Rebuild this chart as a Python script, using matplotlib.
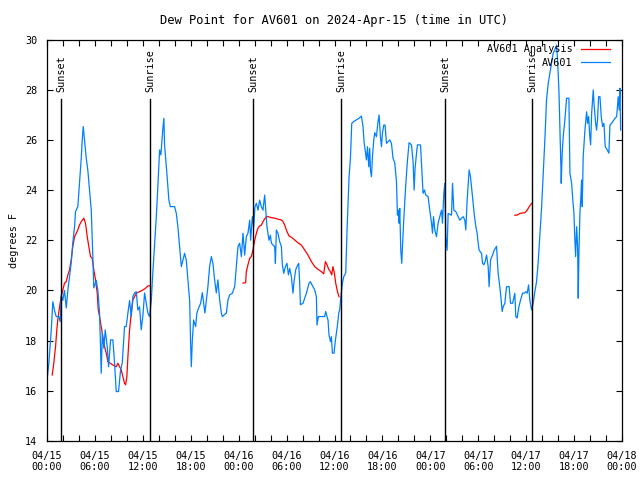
import numpy as np
import pandas as pd
import matplotlib
matplotlib.use("Agg")
import matplotlib.pyplot as plt
import matplotlib.dates as mdates
import matplotlib.transforms as mtransforms

start = pd.Timestamp("2024-04-15 00:00")

# AV601 observations: hours since 04/15 00:00 UTC, dew point (F)
obs_hours = [
    0.0, 0.23, 0.53, 0.73, 0.94, 1.15, 1.48, 1.65, 1.78, 1.98, 2.19, 2.41, 2.61, 2.82,
    3.03, 3.23, 3.45, 3.57, 3.86, 4.07, 4.29, 4.41, 4.54, 4.70, 4.91, 5.11, 5.33, 5.54,
    5.74, 5.86, 6.17, 6.37, 6.58, 6.70, 6.79, 6.92, 7.12, 7.29, 7.54, 7.71, 7.96, 8.25,
    8.46, 8.67, 8.96, 9.21, 9.42, 9.71, 9.92, 10.13, 10.34, 10.55, 10.75, 10.96, 11.18,
    11.38, 11.59, 11.80, 12.01, 12.22, 12.43, 12.63, 12.84, 13.06, 13.26, 13.47, 13.68,
    13.88, 14.10, 14.26, 14.51, 14.64, 14.72, 15.01, 15.26, 15.44, 15.98, 16.19, 16.39,
    16.60, 16.82, 17.02, 17.23, 17.44, 17.64, 17.86, 17.98, 18.07, 18.20, 18.36, 18.61,
    18.77, 18.98, 19.24, 19.45, 19.61, 19.77, 19.95, 20.15, 20.36, 20.58, 20.78, 20.99,
    21.20, 21.40, 21.62, 21.83, 21.95, 22.46, 22.66, 22.87, 23.21, 23.50, 23.71, 23.91,
    24.12, 24.34, 24.54, 24.75, 24.96, 25.16, 25.38, 25.50, 25.71, 25.88, 26.04, 26.22,
    26.42, 26.63, 26.84, 27.04, 27.26, 27.54, 27.80, 27.97, 28.10, 28.30, 28.51, 28.60,
    28.72, 28.92, 29.14, 29.35, 29.47, 29.64, 29.85, 30.05, 30.23, 30.39, 30.60, 30.80,
    30.93, 31.14, 31.30, 31.52, 31.64, 31.73, 32.06, 32.48, 32.81, 32.98, 33.31, 33.52,
    33.73, 33.81, 33.98, 34.36, 34.77, 34.90, 35.06, 35.19, 35.31, 35.49, 35.61, 35.74,
    35.94, 36.12, 36.24, 36.40, 36.53, 36.65, 36.78, 36.99, 37.16, 37.41, 37.57, 37.82,
    38.00, 38.16, 38.41, 38.75, 39.07, 39.37, 39.57, 39.70, 39.87, 40.00, 40.13, 40.29,
    40.41, 40.50, 40.63, 40.75, 40.92, 41.04, 41.25, 41.45, 41.58, 41.75, 41.88, 42.00,
    42.17, 42.33, 42.51, 42.71, 42.92, 43.13, 43.33, 43.55, 43.76, 43.88, 44.01, 44.09,
    44.17, 44.30, 44.42, 44.51, 44.67, 44.92, 45.14, 45.34, 45.64, 45.84, 45.97, 46.09,
    46.27, 46.39, 46.77, 46.93, 47.09, 47.27, 47.43, 47.72, 47.93, 48.15, 48.27, 48.40,
    48.56, 48.77, 48.97, 49.19, 49.40, 49.52, 49.69, 49.81, 49.94, 50.10, 50.23, 50.65,
    50.78, 50.94, 51.19, 51.48, 51.69, 51.90, 52.11, 52.32, 52.44, 52.61, 52.86, 53.03,
    53.20, 53.36, 53.53, 53.70, 53.86, 53.99, 54.11, 54.41, 54.54, 54.70, 54.86, 55.04,
    55.24, 55.36, 55.54, 55.79, 55.99, 56.29, 56.49, 56.70, 56.83, 56.99, 57.12, 57.33,
    57.54, 57.87, 58.04, 58.30, 58.58, 58.70, 58.87, 59.09, 59.30, 59.55, 59.75, 59.96,
    60.13, 60.30, 60.46, 60.68, 60.88, 61.09, 61.30, 61.50, 61.72, 61.93, 62.13, 62.34,
    62.55, 62.76, 62.97, 63.18, 63.38, 63.60, 63.81, 63.93, 64.10, 64.22, 64.35, 64.39,
    64.51, 64.64, 64.85, 65.06, 65.35, 65.48, 65.69, 65.81, 65.98, 66.10, 66.19, 66.32,
    66.44, 66.52, 66.60, 66.73, 66.85, 66.94, 67.02, 67.14, 67.36, 67.57, 67.69, 67.82,
    67.94, 68.07, 68.20, 68.32, 68.40, 68.52, 68.70, 68.82, 68.95, 69.07, 69.24, 69.40,
    69.57, 69.74, 69.90, 70.15, 70.36, 70.49, 70.70, 71.12, 71.33, 71.53, 71.65, 71.74,
    71.83,
]
obs_dewpt = [
    16.4, 17.1, 18.4, 19.55, 19.2, 18.96, 18.96, 18.76, 19.8, 19.6, 20.0, 19.3, 20.0, 20.55,
    21.1, 21.9, 22.54, 23.14, 23.34, 24.28, 25.27, 26.0, 26.53, 26.0, 25.28, 24.8, 24.0, 23.2,
    21.35, 20.1, 20.4, 20.0, 19.1, 17.76, 16.7, 18.3, 17.7, 18.43, 17.76, 16.96, 18.03, 18.03,
    17.1, 15.97, 15.97, 16.83, 17.1, 18.56, 18.56, 19.1, 19.6, 18.96, 19.75, 19.9, 19.95,
    19.22, 19.35, 18.43, 19.0, 19.9, 19.5, 19.1, 18.96, 19.6, 20.75, 21.8, 22.9,
    24.14, 25.6, 25.4, 26.46, 26.86, 25.8, 24.67, 23.6, 23.34, 23.34, 23.07, 22.54,
    21.74, 20.95, 21.2, 21.48, 21.2, 20.42, 19.6, 17.9, 16.96, 18.03, 18.82, 18.56,
    19.1, 19.3, 19.49, 19.91, 19.49, 19.1, 19.6, 20.15, 20.95, 21.35, 21.08, 20.42,
    19.9, 20.42, 19.62, 19.1, 18.96, 19.1, 19.62, 19.82, 19.89, 20.15, 20.95, 21.74,
    21.88, 21.35, 22.28, 21.41, 22.14, 22.28, 22.8, 22.0, 22.94, 22.54, 23.34, 23.47,
    23.2, 23.6, 23.34, 23.2, 23.8, 22.54, 22.0, 22.2, 21.88, 21.81, 21.74, 21.08,
    22.41, 22.28, 21.94, 21.74, 21.02, 20.68, 20.95, 21.08, 20.62, 20.88, 20.55, 19.89,
    20.35, 20.82, 20.95, 21.08, 20.29, 19.43, 19.49, 19.89, 20.29, 20.35, 20.15, 20.02,
    19.75, 18.62, 18.96, 18.96, 18.96, 19.16, 18.96, 18.82, 18.23, 17.96, 18.16, 17.5,
    17.5, 18.03, 18.3, 18.69, 19.1, 19.22, 19.69, 20.29, 20.55, 20.7, 22.4, 24.5,
    25.3, 26.66, 26.73, 26.8, 26.86, 26.95, 26.53, 25.93, 25.53, 25.2, 25.73, 24.93,
    25.67, 24.8, 24.53, 25.33, 26.0, 26.29, 26.13, 26.73, 26.99, 26.13, 25.73, 26.26,
    26.59, 26.59, 25.86, 25.93, 26.0, 25.86, 25.27, 25.07, 24.33, 23.0, 23.2, 22.68,
    23.27, 21.6, 21.08, 21.74, 22.8, 24.2, 25.2, 25.89, 25.8, 25.13, 24.0, 24.87,
    25.47, 25.8, 25.8, 24.8, 23.87, 24.0, 23.8, 23.74, 23.2, 22.68, 22.28, 22.94,
    22.41, 22.14, 22.68, 22.94, 23.2, 22.68, 23.87, 24.27, 22.14, 21.6, 23.07, 23.0,
    24.27, 23.2, 23.14, 22.94, 22.8, 22.88, 22.94, 22.8, 22.41, 23.6, 24.8, 24.53,
    24.0, 23.47, 22.94, 22.54, 22.28, 21.88, 21.6, 21.48, 21.08, 21.02, 21.15, 21.41,
    20.95, 20.15, 21.22, 21.41, 21.6, 21.76, 20.68, 20.15, 19.75, 19.16, 19.35, 19.49,
    20.15, 20.15, 19.49, 19.49, 19.89, 18.96, 18.9, 19.35, 19.62, 19.89, 19.89, 19.95,
    19.89, 20.22, 19.62, 19.22, 19.5, 19.95, 20.35, 21.1, 22.2, 23.3, 24.6, 26.0,
    27.59, 28.25, 28.65, 29.05, 29.45, 29.6, 29.78, 29.18, 27.99, 26.53, 24.93, 24.27,
    25.47, 26.13, 26.8, 27.66, 27.66, 24.67, 24.27, 23.74, 23.07, 22.0, 21.35, 22.54,
    21.74, 19.69, 21.35, 23.07, 23.74, 24.4, 23.34, 25.33, 26.39, 27.12, 26.66, 26.93,
    26.26, 25.8, 27.06, 27.59, 27.99, 27.33, 26.66, 26.39, 26.86, 27.72, 27.72, 26.93,
    26.53, 26.66, 25.73, 25.6, 25.47, 26.59, 26.66, 26.86, 26.93, 27.72, 27.19, 28.06,
    26.39,
]

# AV601 Analysis (gaps marked with nan)
ana_hours = [
    0.65, 0.85, 1.07, 1.23, 1.35, 1.57, 1.78, 1.98, 2.19, 2.41, 2.61, 2.82, 3.03, 3.23,
    3.45, 3.66, 3.86, 4.07, 4.29, 4.61, 4.82, 5.04, 5.24, 5.45, 5.66, 5.86, 6.08, 6.29,
    6.42, 6.58, 6.79, 6.99, 7.21, 7.42, 7.62, 7.92, 8.25, 8.67, 8.87, 9.09, 9.30, 9.50,
    9.71, 9.84, 10.00, 10.13, 10.34, 10.55, 10.75, 10.96, 11.18, 11.59, 12.01, 12.34,
    12.63, 12.84,
    18.0,
    24.54, 24.87, 24.96, 25.16, 25.38, 25.59, 25.79, 26.00, 26.22, 26.42, 26.63, 26.84,
    27.04, 27.26, 27.47, 27.67, 28.10, 28.51, 28.92, 29.35, 29.55, 29.76, 29.97, 30.30,
    30.60, 31.02, 31.43, 31.85, 32.27, 32.68, 33.11, 33.52, 33.93, 34.36, 34.65, 34.86,
    35.06, 35.28, 35.49, 35.65, 35.81, 35.99, 36.15, 36.37, 36.57,
    48.0,
    58.58, 58.87, 59.21, 59.84, 60.13, 60.38, 60.68,
]
ana_dewpt = [
    16.63, 17.1, 17.76, 18.43, 18.82, 19.35, 19.75, 20.02, 20.29, 20.35, 20.62, 20.82, 21.22, 21.74,
    22.14, 22.28, 22.41, 22.61, 22.74, 22.88, 22.68, 22.14, 21.74, 21.35, 21.28, 20.82, 20.42, 19.89,
    19.22, 18.96, 18.56, 18.16, 17.76, 17.5, 17.16, 17.1, 17.03, 16.96, 17.1, 16.96, 16.83, 16.56,
    16.3, 16.24, 16.56, 17.36, 18.43, 19.1, 19.62, 19.75, 19.89, 19.95, 20.02, 20.09,
    20.18, 20.18,
    np.nan,
    20.29, 20.31, 20.75, 21.02, 21.28, 21.35, 21.61, 22.0, 22.28, 22.48, 22.57, 22.6,
    22.74, 22.85, 22.94, 22.94, 22.9, 22.88, 22.84, 22.81, 22.74, 22.61, 22.41, 22.17,
    22.12, 22.01, 21.9, 21.81, 21.61, 21.41, 21.15, 20.95, 20.84, 20.75, 20.66, 21.15,
    21.02, 20.84, 20.75, 20.62, 20.95, 20.68, 20.29, 19.95, 19.75,
    np.nan,
    23.0, 23.0, 23.07, 23.1, 23.2, 23.34, 23.47,
]

sun_labels = ["Sunset", "Sunrise", "Sunset", "Sunrise", "Sunset", "Sunrise"]
sun_hours = [1.75, 12.93, 25.8, 36.85, 49.85, 60.75]


def to_time(hours):
    return (start + pd.to_timedelta(hours, unit="h")).to_numpy()


plt.rcParams["font.family"] = "DejaVu Sans Mono"
plt.rcParams["font.size"] = 7.3

fig = plt.figure(figsize=(6.4, 4.8), dpi=100)
ax = fig.add_axes([47 / 640, 39 / 480, 575 / 640, 401.5 / 480])

ax.plot(to_time(ana_hours), ana_dewpt, "-", lw=0.9, color="#ff0000", label="AV601 Analysis")
ax.plot(to_time(obs_hours), obs_dewpt, "-", lw=0.9, color="#0080ff", label="AV601")

trans = mtransforms.blended_transform_factory(ax.transData, ax.transAxes)
for lab, h in zip(sun_labels, sun_hours):
    t = mdates.date2num(to_time([h])[0])
    ax.plot([t, t], [0, 0.852], color="k", lw=1, transform=trans)
    ax.text(t, 0.868, lab, transform=trans, rotation=90, ha="center", va="bottom")

ax.set_xlim(start.to_numpy(), (start + pd.Timedelta(hours=72)).to_numpy())
ax.set_ylim(14, 30)
ax.set_yticks(range(14, 31, 2))
ax.xaxis.set_major_locator(mdates.HourLocator(byhour=range(0, 24, 6)))
ax.xaxis.set_minor_locator(mdates.HourLocator(byhour=range(0, 24, 2)))
ax.xaxis.set_major_formatter(mdates.DateFormatter("%m/%d\n%H:%M"))
ax.tick_params(which="both", direction="in", top=True, right=True, length=4, width=0.8)
ax.tick_params(axis="x", pad=7)
ax.tick_params(axis="y", pad=7)
for s in ax.spines.values():
    s.set_linewidth(0.9)

ax.set_ylabel("degrees F", fontsize=7.3)
ax.set_title("Dew Point for AV601 on 2024-Apr-15 (time in UTC)", pad=11)

ax.legend(loc="upper right", frameon=False, markerfirst=False, handlelength=2.9,
          handletextpad=0.8, labelspacing=0.3, borderpad=0, borderaxespad=0,
          bbox_to_anchor=(1 - 12 / 575, 1 - 5 / 401.5))

fig.savefig("out.png", dpi=100)
